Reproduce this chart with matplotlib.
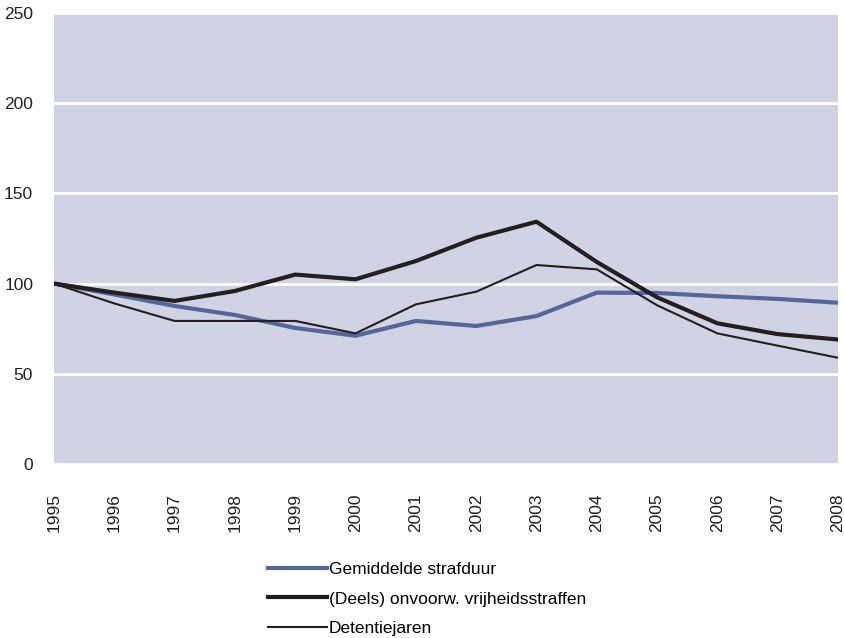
import matplotlib
matplotlib.use("Agg")
import matplotlib.pyplot as plt

years = [1995, 1996, 1997, 1998, 1999, 2000, 2001, 2002, 2003, 2004, 2005, 2006, 2007, 2008]
gemiddelde_strafduur = [100, 94, 87.6, 82.6, 75.4, 71.1, 79.3, 76.5, 82, 95, 94.8, 93, 91.5, 89.4]
vrijheidsstraffen = [100, 95, 90.4, 95.9, 105, 102.4, 112.5, 125.4, 134.3, 112, 92.4, 78, 72, 69]
detentiejaren = [100, 89, 79.3, 79.3, 79.3, 72.4, 88.5, 95.5, 110.3, 107.9, 88, 72.4, 65.6, 58.9]
labels = ["Gemiddelde strafduur", "(Deels) onvoorw. vrijheidsstraffen", "Detentiejaren"]
yticks = [0, 50, 100, 150, 200, 250]

plt.rcParams['font.family'] = ['Liberation Sans', 'DejaVu Sans']

fig = plt.figure(figsize=(8.44, 6.38), dpi=100)
ax = fig.add_axes([54/844, 1 - 464/638, (838 - 54)/844, (464 - 13)/638])
ax.set_facecolor('#CFD3E3')

ax.plot(years, gemiddelde_strafduur, color='#56669A', lw=3.0, label=labels[0], zorder=3)
ax.plot(years, vrijheidsstraffen, color='#231F20', lw=3.0, label=labels[1], zorder=4)
ax.plot(years, detentiejaren, color='#231F20', lw=1.5, label=labels[2], zorder=5)

ax.set_xlim(years[0], years[-1])
ax.set_ylim(0, 250)
ax.set_yticks(yticks)
ax.set_xticks(years)
ax.set_xticklabels([str(y) for y in years], rotation=90, fontsize=12.5, color='#231F20')
ax.set_yticklabels([str(v) for v in yticks], fontsize=12.5, color='#231F20')
ax.tick_params(axis='both', length=0)
ax.tick_params(axis='y', pad=15)
ax.tick_params(axis='x', pad=21)
ax.grid(axis='y', color='white', lw=2)
ax.set_axisbelow(True)
for s in ax.spines.values():
    s.set_visible(False)

fig.legend(loc='upper left', bbox_to_anchor=(268/844, 1 - 562/638), frameon=False,
           fontsize=12.5, handlelength=3.4, handletextpad=0.12, labelspacing=0.82,
           borderaxespad=0, borderpad=0)

fig.savefig("out.png", dpi=100)
